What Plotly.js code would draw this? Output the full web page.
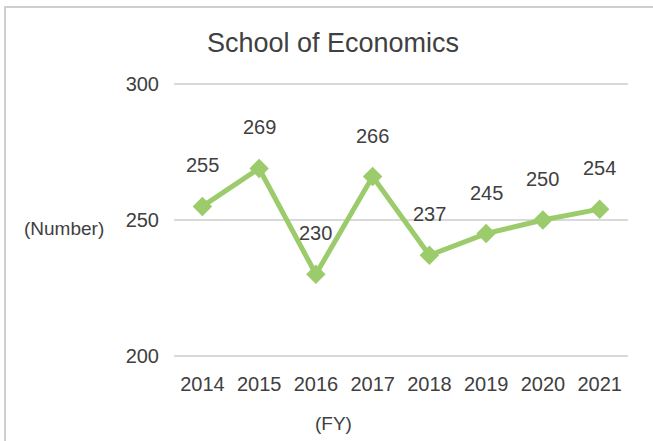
<!DOCTYPE html>
<html>
<head>
<meta charset="utf-8">
<script src="https://cdn.plot.ly/plotly-3.0.1.min.js"></script>
<style>
  html, body { margin: 0; padding: 0; background: #fff; }
  #wrap { position: relative; width: 653px; height: 441px; overflow: hidden; }
  #chart { width: 653px; height: 441px; }
  #frame { position: absolute; left: 4px; top: 6px; width: 700px; height: 500px;
           border-left: 2px solid #cfcfcf; border-top: 2px solid #cfcfcf; pointer-events: none; }
</style>
</head>
<body>
<div id="wrap">
  <div id="chart"></div>
  <div id="frame"></div>
</div>
<script>
const years = ["2014", "2015", "2016", "2017", "2018", "2019", "2020", "2021"];
const counts = [255, 269, 230, 266, 237, 245, 250, 254];
const yTicks = [200, 250, 300];

const textColor = "#404040";
const lineColor = "#9ccb6c";
const fontFamily = "Liberation Sans, Arial, sans-serif";

const trace = {
  x: years,
  y: counts,
  type: "scatter",
  mode: "lines+markers",
  line: { color: lineColor, width: 5 },
  marker: { symbol: "diamond", size: 15, color: lineColor },
  hoverinfo: "x+y"
};

// data labels: category index on x, value on y, placed through the axes
const labels = counts.map((v, i) => ({
  x: i, y: v, xref: "x", yref: "y",
  text: String(v), showarrow: false, yshift: 41,
  font: { family: fontFamily, size: 20, color: textColor }
}));

// plot area: top 82.64, height 274.72 (y range 199.5..300.5)
const pTop = 82.64, pH = 274.72, pL = 174, pW = 454;
labels.push({
  xref: "paper", yref: "paper", x: (64 - pL) / pW, y: (pTop + pH - 229) / pH,
  text: "(Number)", showarrow: false, xanchor: "center", yanchor: "middle",
  font: { family: fontFamily, size: 19, color: textColor }
});
labels.push({
  xref: "paper", yref: "paper", x: (333 - pL) / pW, y: (pTop + pH - 424) / pH,
  text: "(FY)", showarrow: false, xanchor: "center", yanchor: "middle",
  font: { family: fontFamily, size: 19, color: textColor }
});

const layout = {
  width: 653, height: 441,
  margin: { l: pL, r: 653 - pL - pW, t: pTop, b: 441 - pTop - pH },
  paper_bgcolor: "#ffffff", plot_bgcolor: "#ffffff",
  font: { family: fontFamily, color: textColor, size: 20 },
  showlegend: false,
  title: {
    text: "School of Economics",
    font: { family: fontFamily, size: 27, color: textColor },
    x: 333 / 653, xanchor: "center",
    y: 1 - 43 / 441, yanchor: "middle"
  },
  xaxis: {
    type: "category",
    range: [-0.5, years.length - 0.5],
    showgrid: false, zeroline: false, showline: false,
    ticks: "", ticklabelstandoff: 13,
    tickfont: { family: fontFamily, size: 20, color: textColor },
    fixedrange: true
  },
  yaxis: {
    range: [199.5, 300.5],
    tickvals: yTicks,
    showgrid: true, gridcolor: "#d9d9d9", gridwidth: 2,
    zeroline: false, showline: false,
    ticks: "", ticklabelstandoff: 14,
    tickfont: { family: fontFamily, size: 20, color: textColor },
    fixedrange: true
  },
  annotations: labels
};

Plotly.newPlot("chart", [trace], layout, { displayModeBar: false, staticPlot: true });
</script>
</body>
</html>
